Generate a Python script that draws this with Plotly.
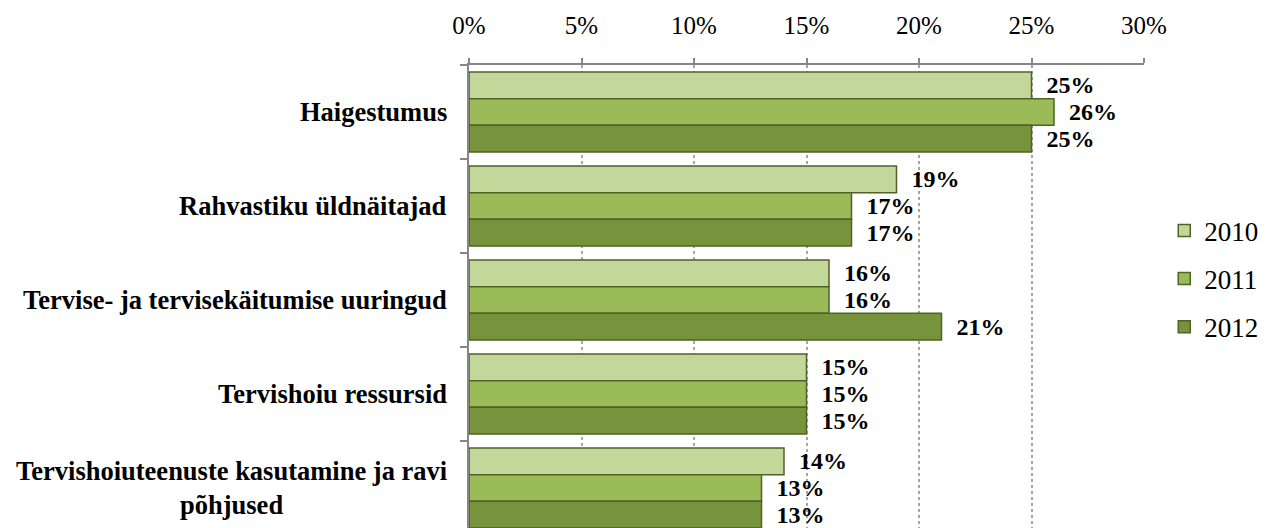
import plotly.graph_objects as go

categories = ["Haigestumus", "Rahvastiku üldnäitajad", "Tervise- ja tervisekäitumise uuringud",
              "Tervishoiu ressursid", "Tervishoiuteenuste kasutamine ja ravi<br>põhjused"]
years = ["2010", "2011", "2012"]
values_2010 = [25, 19, 16, 15, 14]
values_2011 = [26, 17, 16, 15, 13]
values_2012 = [25, 17, 21, 15, 13]
series = [values_2010, values_2011, values_2012]
colors = ["#c4d79b", "#9bbb59", "#77933c"]
x_ticks = [0, 5, 10, 15, 20, 25, 30]

FONT = "Liberation Serif"

fig = go.Figure()
for name, vals, col in zip(years, series, colors):
    fig.add_trace(go.Bar(
        y=categories, x=vals, name=name, orientation="h",
        marker=dict(color=col, line=dict(color="#4f6228", width=1.5)),
        text=[f"\u00a0\u00a0<b>{v}%</b>" for v in vals], textposition="outside",
        textfont=dict(family=FONT, size=24, color="black"),
        constraintext="none", cliponaxis=False, legendgroup=name,
    ))

for c in categories:
    fig.add_annotation(
        x=0, y=c, xref="x", yref="y", text=f"<b>{c}</b>", showarrow=False,
        xanchor="right", yanchor="middle", align="center", xshift=-20,
        font=dict(family=FONT, size=26.5, color="black"),
    )

fig.update_layout(
    width=1263, height=520,
    margin=dict(l=461, r=127, t=57, b=0),
    barmode="group", bargap=0.149, bargroupgap=0,
    plot_bgcolor="white", paper_bgcolor="white",
    font=dict(family=FONT, color="black"),
    legend=dict(x=1.03, xanchor="left", y=0.538, yanchor="middle",
                traceorder="grouped", tracegroupgap=10, itemwidth=30,
                font=dict(family=FONT, size=27, color="black")),
    xaxis=dict(side="top", range=[0, 30], tickvals=x_ticks,
               ticktext=[f"{t}%" for t in x_ticks],
               showgrid=True, gridcolor="#a6a6a6", griddash="dot", gridwidth=1.5,
               zeroline=False, showline=True, linecolor="#868686", linewidth=1.5,
               ticks="outside", ticklen=5, tickcolor="#868686", tickwidth=1.5,
               ticklabelstandoff=14,
               tickfont=dict(family=FONT, size=25, color="black")),
    yaxis=dict(type="category", range=[4.426, -0.5], autorange=False,
               showgrid=False, zeroline=False, showline=True, linecolor="#868686",
               linewidth=1.5, ticks="outside", tickson="boundaries", ticklen=7,
               tickcolor="#868686", tickwidth=1.5, showticklabels=False),
)

fig.write_html("out.html")
